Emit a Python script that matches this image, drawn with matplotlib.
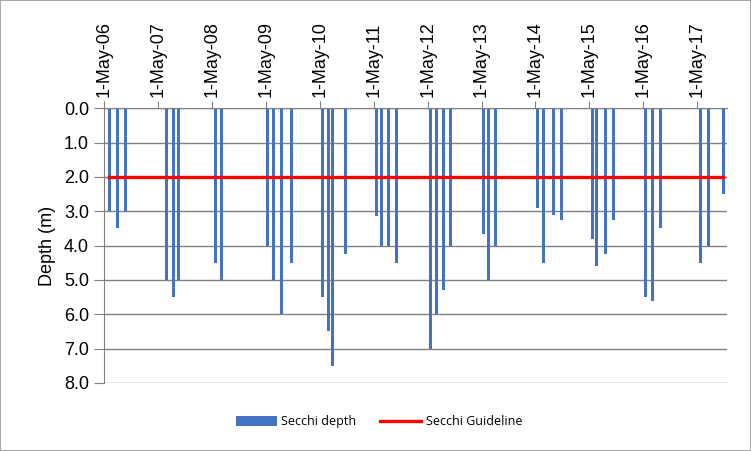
import matplotlib
matplotlib.use('Agg')
import matplotlib.pyplot as plt
import matplotlib.dates as mdates
import pandas as pd

# sampling dates and secchi depths
sample_dates = [
    '2006-06-04', '2006-07-28', '2006-09-20',
    '2007-06-25', '2007-08-12', '2007-09-15',
    '2008-05-23', '2008-07-03',
    '2009-05-10', '2009-06-20', '2009-08-13', '2009-10-20',
    '2010-05-18', '2010-06-28', '2010-07-25', '2010-10-21',
    '2011-05-20', '2011-06-23', '2011-08-09', '2011-10-02',
    '2012-05-20', '2012-06-30', '2012-08-16', '2012-10-03',
    '2013-05-14', '2013-06-17', '2013-08-04',
    '2014-05-15', '2014-06-24', '2014-08-31', '2014-10-24',
    '2015-05-23', '2015-06-19', '2015-08-19', '2015-10-13',
    '2016-05-16', '2016-07-02', '2016-08-26',
    '2017-05-24', '2017-07-17', '2017-10-27',
]
secchi_depth = [
    3.0, 3.5, 3.0,
    5.0, 5.5, 5.0,
    4.5, 5.0,
    4.0, 5.0, 6.0, 4.5,
    5.5, 6.5, 7.5, 4.25,
    3.15, 4.0, 4.0, 4.5,
    7.0, 6.0, 5.3, 4.0,
    3.65, 5.0, 4.0,
    2.9, 4.5, 3.1, 3.25,
    3.8, 4.6, 4.25, 3.25,
    5.5, 5.6, 3.5,
    4.5, 4.0, 2.5,
]
guideline = 2.0

dates = pd.to_datetime(sample_dates)

plt.rcParams['font.family'] = ['Liberation Sans', 'DejaVu Sans']

fig = plt.figure(figsize=(7.51, 4.51), dpi=100)
fig.patch.set_edgecolor('#a6a6a6')
fig.patch.set_linewidth(1.2)
ax = fig.add_axes([0.139, 0.151, 0.829, 0.609])

bars = ax.bar(dates, secchi_depth, width=18, color='#4472C4', label='Secchi depth', zorder=2)
line, = ax.plot(dates, [guideline] * len(dates), color='red', lw=2.4, label='Secchi Guideline', zorder=3)

ax.set_ylim(8, 0)
ax.set_yticks(range(0, 9))
ax.set_yticklabels([f'{v:.1f}' for v in range(0, 9)], fontsize=13)
ax.set_xlim(pd.Timestamp('2006-05-01'), pd.Timestamp('2017-11-20'))

ax.xaxis.tick_top()
ax.xaxis.set_major_locator(mdates.YearLocator(month=5, day=1))
ax.xaxis.set_major_formatter(mdates.DateFormatter('%-d-%b-%y'))
plt.setp(ax.get_xticklabels(), rotation=90, fontsize=13)
ax.tick_params(axis='x', length=5, color='#808080', pad=3)
ax.tick_params(axis='y', length=7, color='#808080', pad=4)

ax.grid(axis='y', color='#808080', lw=1, zorder=0)
for side in ['right', 'bottom']:
    ax.spines[side].set_visible(False)
for side in ['left', 'top']:
    ax.spines[side].set_color('#808080')

ax.set_ylabel('Depth (m)', fontsize=13, labelpad=6)

ax.legend([bars, line], ['Secchi depth', 'Secchi Guideline'],
          loc='center', bbox_to_anchor=(0.441, -0.142), ncol=2, frameon=False,
          handlelength=3.3, handleheight=0.9, handletextpad=0.35, columnspacing=1.9,
          prop={'family': 'Open Sans', 'size': 9})

fig.savefig('out.png', dpi=100, edgecolor=fig.get_edgecolor())
